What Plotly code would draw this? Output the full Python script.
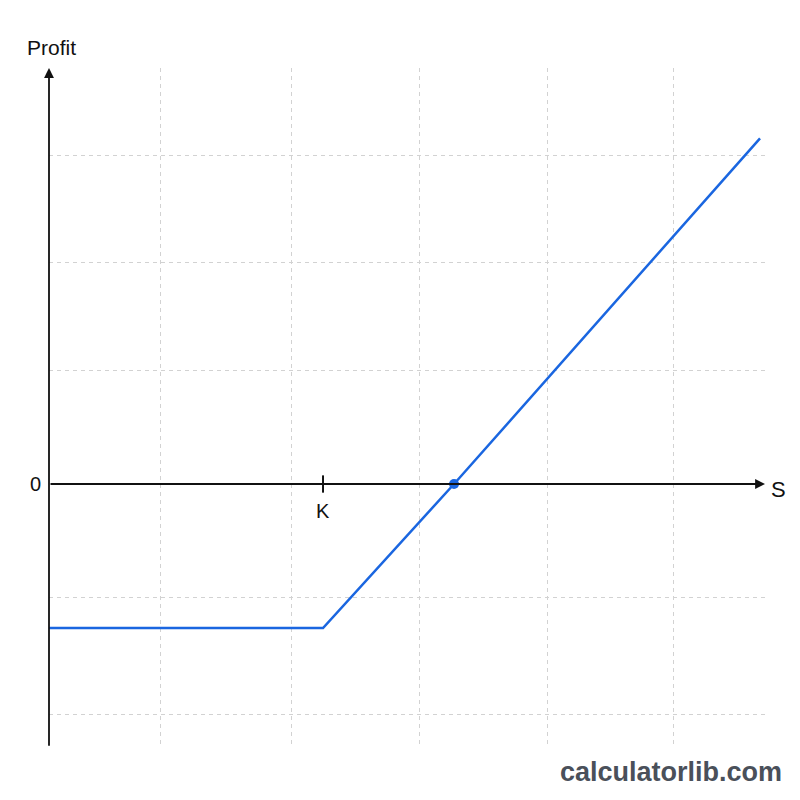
import plotly.graph_objects as go

# ---- data ----
strike_K = 100.0
premium = 10.0
payoff_S = [79.08, 100.0, 110.0, 133.36]      # underlying price at line vertices
payoff_profit = [-10.0, -10.0, 0.0, 24.0]      # profit at line vertices
breakeven_S = [strike_K + premium]
breakeven_profit = [0.0]
grid_S = [87.56, 97.56, 107.33, 117.10, 126.72]
grid_profit = [22.8, 15.4, 7.9, -7.9, -16.0]

x_range = [79.08, 133.74]
y_range = [-18.125, 28.89]

blue = "#1a66e0"
font_family = "Liberation Sans, Arial, sans-serif"


def px_x(p):
    return (p - 49) / 716


def px_y(p):
    return (745 - p) / 677


fig = go.Figure()
fig.add_trace(go.Scatter(x=payoff_S, y=payoff_profit, mode="lines",
                         line=dict(color=blue, width=2.5), hoverinfo="skip",
                         showlegend=False, cliponaxis=False))
fig.add_trace(go.Scatter(x=breakeven_S, y=breakeven_profit, mode="markers",
                         marker=dict(color=blue, size=10), showlegend=False,
                         cliponaxis=False))

lab = dict(showarrow=False, xanchor="center", yanchor="middle")
annotations = [
    # x axis arrow
    dict(x=x_range[1], y=0, ax=x_range[0], ay=0, xref="x", yref="y",
         axref="x", ayref="y", text="", showarrow=True, arrowhead=2,
         arrowsize=1.1, arrowwidth=1.8, arrowcolor="#111"),
    # y axis arrow
    dict(x=x_range[0], y=y_range[1], ax=x_range[0], ay=y_range[0] - 0.15,
         xref="x", yref="y", axref="x", ayref="y", text="", showarrow=True,
         arrowhead=2, arrowsize=1.1, arrowwidth=1.8, arrowcolor="#111"),
    dict(x=strike_K, y=-1.85, xref="x", yref="y", text="K",
         font=dict(size=20, color="#111", family=font_family), **lab),
    dict(x=px_x(51), y=px_y(47), xref="paper", yref="paper", text="Profit",
         font=dict(size=21, color="#111", family=font_family), **lab),
    dict(x=px_x(35), y=0, xref="paper", yref="y", text="0",
         font=dict(size=20, color="#111", family=font_family), **lab),
    dict(x=px_x(778), y=-0.4, xref="paper", yref="y", text="S",
         font=dict(size=22, color="#111", family=font_family), **lab),
    dict(x=px_x(671), y=px_y(772), xref="paper", yref="paper",
         text="<b>calculatorlib.com</b>",
         font=dict(size=27, color="#4a505a", family=font_family), **lab),
]

shapes = [
    dict(type="line", xref="x", yref="y", x0=strike_K, x1=strike_K,
         y0=-0.6, y1=0.6, line=dict(color="#111", width=2)),
]

fig.update_layout(
    width=800, height=800,
    margin=dict(l=49, r=35, t=68, b=55),
    paper_bgcolor="white", plot_bgcolor="white",
    xaxis=dict(range=x_range, tickvals=grid_S, showticklabels=False,
               showgrid=True, gridcolor="#d2d2d2", griddash="4px,4px",
               gridwidth=1, zeroline=False, showline=False, ticks=""),
    yaxis=dict(range=y_range, tickvals=grid_profit, showticklabels=False,
               showgrid=True, gridcolor="#d2d2d2", griddash="4px,4px",
               gridwidth=1, zeroline=False, showline=False, ticks=""),
    annotations=annotations, shapes=shapes,
)

fig.write_html("out.html")
